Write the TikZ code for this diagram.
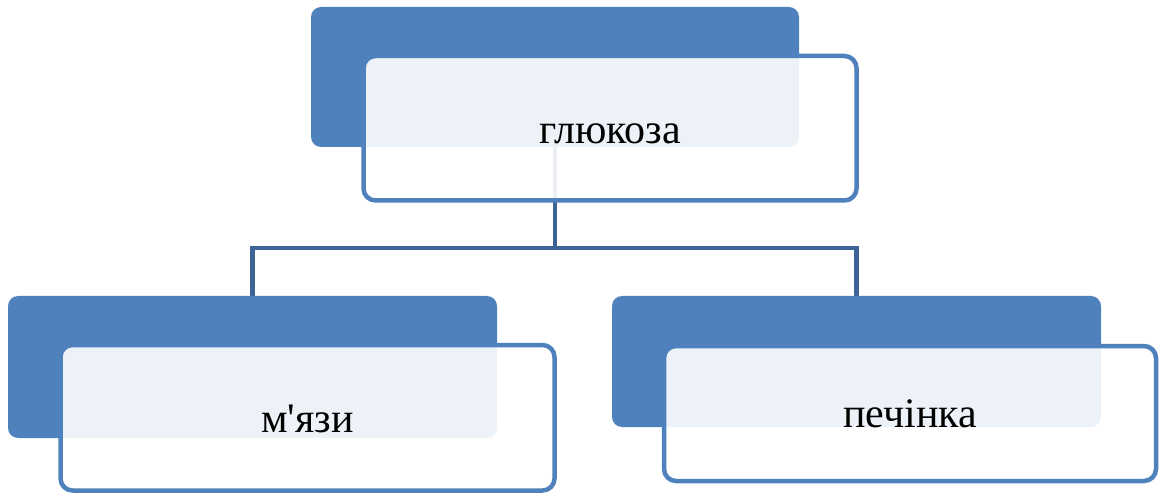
\documentclass[tikz,border=0pt]{standalone}
\usepackage{fontspec}
\setmainfont{Liberation Serif}[Ligatures=TeXOff]
\definecolor{accent}{RGB}{79,129,189}
\definecolor{linkblue}{RGB}{60,100,150}
\pgfdeclarelayer{background}
\pgfsetlayers{background,main}
\tikzset{
  backbox/.style={rectangle, rounded corners=10pt, fill=accent, draw=none, inner sep=0pt},
  frontbox/.style={rectangle, rounded corners=12pt, fill=white, fill opacity=0.9,
    draw=accent, line width=4.5pt, inner sep=0pt},
  label/.style={font=\fontsize{42}{50}\selectfont, text=black, inner sep=0pt, anchor=base},
  link/.style={draw=linkblue, line width=4.5pt}
}
\begin{document}
\begin{tikzpicture}[x=1pt, y=-1pt]
\useasboundingbox (0,0) rectangle (1159,494);

% shaded back plates
\path (555,77) node[backbox, minimum width=488pt, minimum height=140pt] (tback) {};
\path (252.5,367) node[backbox, minimum width=489pt, minimum height=142pt] (lback) {};
\path (856.5,361.5) node[backbox, minimum width=489pt, minimum height=131pt] (rback) {};

% tree connectors, kept underneath the plates
\coordinate (bus) at (555,248);
\begin{pgfonlayer}{background}
  \draw[link] (tback.center) -- (bus) -| (lback.center);
  \draw[link] (bus) -| (rback.center);
\end{pgfonlayer}

% translucent front cards
\path (610,128.25) node[frontbox, minimum width=493pt, minimum height=144.5pt] (tfront) {};
\path (307.5,417.75) node[frontbox, minimum width=494pt, minimum height=145.5pt] (lfront) {};
\path (910,413.5) node[frontbox, minimum width=492pt, minimum height=135pt] (rfront) {};

% card texts
\node[label] (ttext) at ([yshift=-15pt]tfront.center) {глюкоза};
\node[label] (ltext) at ([yshift=-15pt]lfront.center) {м'язи};
\node[label] (rtext) at ([yshift=-14pt]rfront.center) {печінка};
\end{tikzpicture}
\end{document}
